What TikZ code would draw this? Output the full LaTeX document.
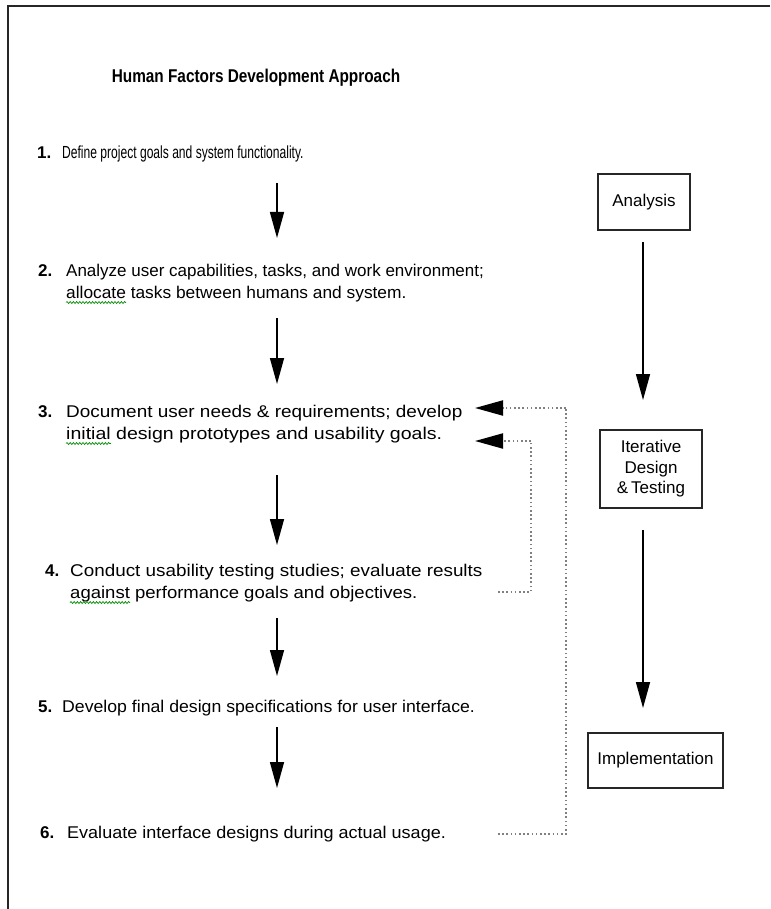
\documentclass[tikz,border=0pt]{standalone}
\usepackage{fontspec}
\setmainfont{Liberation Sans}
\newfontfamily\narrowfont[FakeStretch=0.69]{Liberation Sans}
\newfontfamily\titlefont[FakeStretch=0.83]{Liberation Sans}
\usetikzlibrary{arrows.meta,decorations.pathmorphing}
% horizontal stretch of one line of step text
\newcommand\linestretch[2]{\scalebox{#1}[1]{#2}}

\begin{document}
\begin{tikzpicture}[x=1pt,y=-1pt,
  titletext/.style={anchor=base,inner sep=0pt,font=\titlefont\bfseries\fontsize{18.5}{22}\selectfont},
  steptext/.style={anchor=base west,inner sep=0pt,font=\fontsize{17}{22}\selectfont},
  stepnum/.style={anchor=base west,inner sep=0pt,font=\bfseries\fontsize{17}{22}\selectfont},
  narrowtext/.style={anchor=base west,inner sep=0pt,font=\narrowfont\fontsize{17.5}{22}\selectfont},
  phase/.style={draw=black!85,line width=1.4pt,align=center,inner sep=0pt,
    font=\fontsize{17}{20.5}\selectfont},
  flow/.style={line width=1.5pt,-{Triangle[length=26pt,width=14pt]}},
  loopline/.style={draw=black!50,line width=2pt,dash pattern=on 1.6pt off 2.6pt},
  loopback/.style={loopline,-{Triangle[length=28pt,width=15pt,color=black]}},
  spell/.style={draw=green!55!black,line width=0.7pt,
    decorate,decoration={snake,amplitude=1pt,segment length=3.2pt}}
]
\useasboundingbox (0,0) rectangle (770,909);

% page frame running off the right and bottom edges
\draw[line width=2pt,black!85] (8,909) -- (8,6) -- (770,6);

% heading
\node[titletext] (title) at (256,83) {Human Factors Development Approach};

% process steps
\node[stepnum]    (n1)  at (37,159) {1.};
\node[narrowtext] (s1)  at (62,159) {Define project goals and system functionality.};

\node[stepnum]  (n2)  at (38,276) {2.};
\node[steptext] (s2a) at (66,276) {Analyze user capabilities, tasks, and work environment;};
\node[steptext] (s2b) at (66,298) {\linestretch{1.02}{allocate tasks between humans and system.}};

\node[stepnum]  (n3)  at (38,417) {3.};
\node[steptext] (s3a) at (66,417) {\linestretch{1.115}{Document user needs \& requirements; develop}};
\node[steptext] (s3b) at (66,439) {\linestretch{1.15}{initial design prototypes and usability goals.}};

\node[stepnum]  (n4)  at (45,576) {4.};
\node[steptext] (s4a) at (70,576) {\linestretch{1.11}{Conduct usability testing studies; evaluate results}};
\node[steptext] (s4b) at (70,598) {\linestretch{1.09}{against performance goals and objectives.}};

\node[stepnum]  (n5)  at (38,712) {5.};
\node[steptext] (s5)  at (62,712) {\linestretch{1.04}{Develop final design specifications for user interface.}};

\node[stepnum]  (n6)  at (40,838) {6.};
\node[steptext] (s6)  at (67,838) {\linestretch{1.06}{Evaluate interface designs during actual usage.}};

% spelling marks under flagged words
\node[steptext] (w2) at (s2b.base west) {\linestretch{1.02}{\phantom{allocate}}};
\node[steptext] (w3) at (s3b.base west) {\linestretch{1.15}{\phantom{initial}}};
\node[steptext] (w4) at (s4b.base west) {\linestretch{1.09}{\phantom{against}}};
\draw[spell] ([yshift=-4.5pt]w2.base west) -- ([yshift=-4.5pt]w2.base east);
\draw[spell] ([yshift=-4.5pt]w3.base west) -- ([yshift=-4.5pt]w3.base east);
\draw[spell] ([yshift=-4.5pt]w4.base west) -- ([yshift=-4.5pt]w4.base east);

% arrows between the steps
\coordinate (a1s) at (277,183); \coordinate (a1e) at (277,238);
\coordinate (a2s) at (277,318); \coordinate (a2e) at (277,384);
\coordinate (a3s) at (277,475); \coordinate (a3e) at (277,545);
\coordinate (a4s) at (277,618); \coordinate (a4e) at (277,676);
\coordinate (a5s) at (277,727); \coordinate (a5e) at (277,788);
\draw[flow] (a1s) -- (a1e);
\draw[flow] (a2s) -- (a2e);
\draw[flow] (a3s) -- (a3e);
\draw[flow] (a4s) -- (a4e);
\draw[flow] (a5s) -- (a5e);

% phases
\node[phase,minimum width=92pt,minimum height=56pt]  (ana) at (644,202) {Analysis};
\node[phase,minimum width=102pt,minimum height=78pt] (itd) at (651,469) {Iterative\\Design\\\&\,Testing};
\node[phase,minimum width=135pt,minimum height=55pt] (imp) at (655.5,760.5) {Implementation};

\coordinate (p1s) at (643,242); \coordinate (p1e) at (643,400);
\coordinate (p2s) at (643,530); \coordinate (p2e) at (643,708);
\draw[flow] (p1s) -- (p1e);
\draw[flow] (p2s) -- (p2e);

% feedback loops back to step 3
\coordinate (l6s) at (498,834); \coordinate (l6c) at (566,834);
\coordinate (l6u) at (566,408); \coordinate (l6e) at (475,408);
\draw[loopline] (l6s) -- (l6c) -- (l6u);
\draw[loopback] (l6u) -- (l6e);

\coordinate (l4s) at (498,592); \coordinate (l4c) at (531,592);
\coordinate (l4u) at (531,441); \coordinate (l4e) at (475,441);
\draw[loopline] (l4s) -- (l4c) -- (l4u);
\draw[loopback] (l4u) -- (l4e);
\end{tikzpicture}
\end{document}
